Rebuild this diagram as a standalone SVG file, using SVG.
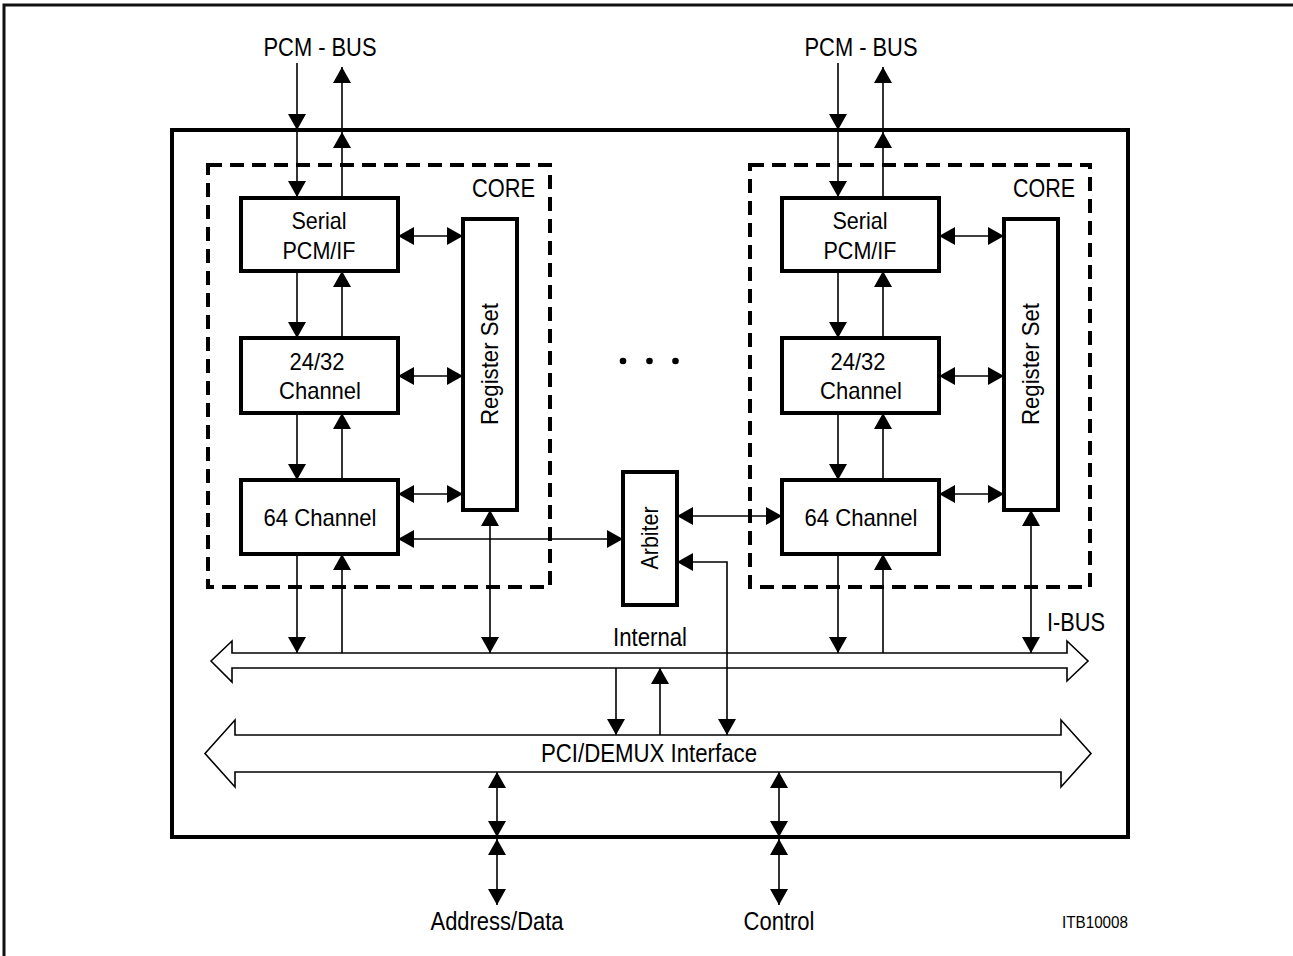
<svg xmlns="http://www.w3.org/2000/svg" width="1293" height="956" viewBox="0 0 1293 956">
<defs>
<style>
text{font-family:"Liberation Sans",Arial,sans-serif;fill:#000}
.t{font-size:25px}
.tb{font-size:24px}
.box{fill:#fff;stroke:#000;stroke-width:4}
.core{fill:none;stroke:#000;stroke-width:4;stroke-dasharray:14 8}
.ln{fill:none;stroke:#000;stroke-width:1.6}
.bus{fill:#fff;stroke:#000;stroke-width:1.6}
</style>
<marker id="ah" viewBox="0 0 16 18" refX="16" refY="9" markerWidth="16" markerHeight="18" markerUnits="userSpaceOnUse" orient="auto-start-reverse">
<path d="M0,0 L16,9 L0,18 z" fill="#000"/>
</marker>
</defs>
<rect width="1293" height="956" fill="#fff"/>
<path d="M4,956 V5 H1293" fill="none" stroke="#111" stroke-width="3"/>

<g id="chip"><rect x="172" y="130" width="956" height="707" fill="none" stroke="#000" stroke-width="4"/></g>

<g id="buses">
<path class="bus" d="M211,661 L232,641 L232,653 L1067,653 L1067,641 L1088,661 L1067,681 L1067,668 L232,668 L232,682 Z"/>
<path class="bus" d="M205,753.5 L235,720 L235,735 L1061,735 L1061,720 L1091,753.5 L1061,787 L1061,772 L235,772 L235,787 Z"/>
</g>

<g id="coreL">
<rect class="core" x="208" y="165" width="342" height="422"/>
<text class="t" x="472" y="197" textLength="63" lengthAdjust="spacingAndGlyphs">CORE</text>
</g>
<g id="coreR">
<rect class="core" x="750" y="165" width="340" height="422"/>
<text class="t" x="1013" y="197" textLength="62" lengthAdjust="spacingAndGlyphs">CORE</text>
</g>

<g id="serialL">
<rect class="box" x="241" y="198" width="157" height="73"/>
<text class="tb" x="319" y="229" text-anchor="middle" textLength="55" lengthAdjust="spacingAndGlyphs">Serial</text>
<text class="tb" x="319" y="259" text-anchor="middle" textLength="73" lengthAdjust="spacingAndGlyphs">PCM/IF</text>
</g>
<g id="ch2432L">
<rect class="box" x="241" y="338" width="157" height="75"/>
<text class="tb" x="317" y="370" text-anchor="middle" textLength="55" lengthAdjust="spacingAndGlyphs">24/32</text>
<text class="tb" x="320" y="399" text-anchor="middle" textLength="82" lengthAdjust="spacingAndGlyphs">Channel</text>
</g>
<g id="ch64L">
<rect class="box" x="241" y="480" width="157" height="74"/>
<text class="tb" x="320" y="526" text-anchor="middle" textLength="113" lengthAdjust="spacingAndGlyphs">64 Channel</text>
</g>
<g id="regL">
<rect class="box" x="463" y="219" width="54" height="291"/>
<text class="tb" x="498" y="364" text-anchor="middle" transform="rotate(-90 498 364)" textLength="122" lengthAdjust="spacingAndGlyphs">Register Set</text>
</g>

<g id="serialR">
<rect class="box" x="782" y="198" width="157" height="73"/>
<text class="tb" x="860" y="229" text-anchor="middle" textLength="55" lengthAdjust="spacingAndGlyphs">Serial</text>
<text class="tb" x="860" y="259" text-anchor="middle" textLength="73" lengthAdjust="spacingAndGlyphs">PCM/IF</text>
</g>
<g id="ch2432R">
<rect class="box" x="782" y="338" width="157" height="75"/>
<text class="tb" x="858" y="370" text-anchor="middle" textLength="55" lengthAdjust="spacingAndGlyphs">24/32</text>
<text class="tb" x="861" y="399" text-anchor="middle" textLength="82" lengthAdjust="spacingAndGlyphs">Channel</text>
</g>
<g id="ch64R">
<rect class="box" x="782" y="480" width="157" height="74"/>
<text class="tb" x="861" y="526" text-anchor="middle" textLength="113" lengthAdjust="spacingAndGlyphs">64 Channel</text>
</g>
<g id="regR">
<rect class="box" x="1004" y="219" width="54" height="291"/>
<text class="tb" x="1039" y="364" text-anchor="middle" transform="rotate(-90 1039 364)" textLength="122" lengthAdjust="spacingAndGlyphs">Register Set</text>
</g>

<g id="arbiter">
<rect class="box" x="623" y="472" width="54" height="133"/>
<text class="tb" x="658" y="538" text-anchor="middle" transform="rotate(-90 658 538)" textLength="63" lengthAdjust="spacingAndGlyphs">Arbiter</text>
</g>

<g id="dots">
<circle cx="623" cy="361" r="3.3"/>
<circle cx="649.5" cy="361" r="3.3"/>
<circle cx="675.5" cy="361" r="3.3"/>
</g>

<g id="labels">
<text class="t" x="320" y="56" text-anchor="middle" textLength="113" lengthAdjust="spacingAndGlyphs">PCM - BUS</text>
<text class="t" x="861" y="56" text-anchor="middle" textLength="113" lengthAdjust="spacingAndGlyphs">PCM - BUS</text>
<text class="t" x="650" y="646" text-anchor="middle" textLength="74" lengthAdjust="spacingAndGlyphs">Internal</text>
<text class="t" x="1047" y="631" textLength="58" lengthAdjust="spacingAndGlyphs">I-BUS</text>
<text class="t" x="649" y="762" text-anchor="middle" textLength="216" lengthAdjust="spacingAndGlyphs">PCI/DEMUX Interface</text>
<text class="t" x="497" y="930" text-anchor="middle" textLength="133" lengthAdjust="spacingAndGlyphs">Address/Data</text>
<text class="t" x="779" y="930" text-anchor="middle" textLength="71" lengthAdjust="spacingAndGlyphs">Control</text>
<text x="1062" y="928" font-size="17" textLength="66" lengthAdjust="spacingAndGlyphs">ITB10008</text>
</g>

<g id="connectors">
<path class="ln" d="M297,63 V130" marker-end="url(#ah)"/>
<path class="ln" d="M297,130 V197" marker-end="url(#ah)"/>
<path class="ln" d="M342,197 V132" marker-end="url(#ah)"/>
<path class="ln" d="M342,132 V67" marker-end="url(#ah)"/>
<path class="ln" d="M838,63 V130" marker-end="url(#ah)"/>
<path class="ln" d="M838,130 V197" marker-end="url(#ah)"/>
<path class="ln" d="M883,197 V132" marker-end="url(#ah)"/>
<path class="ln" d="M883,132 V67" marker-end="url(#ah)"/>
<path class="ln" d="M297,271 V338" marker-end="url(#ah)"/>
<path class="ln" d="M342,338 V271" marker-end="url(#ah)"/>
<path class="ln" d="M297,413 V480" marker-end="url(#ah)"/>
<path class="ln" d="M342,480 V413" marker-end="url(#ah)"/>
<path class="ln" d="M297,554 V653" marker-end="url(#ah)"/>
<path class="ln" d="M342,653 V554" marker-end="url(#ah)"/>
<path class="ln" d="M490,653 V510" marker-start="url(#ah)" marker-end="url(#ah)"/>
<path class="ln" d="M838,271 V338" marker-end="url(#ah)"/>
<path class="ln" d="M883,338 V271" marker-end="url(#ah)"/>
<path class="ln" d="M838,413 V480" marker-end="url(#ah)"/>
<path class="ln" d="M883,480 V413" marker-end="url(#ah)"/>
<path class="ln" d="M838,554 V653" marker-end="url(#ah)"/>
<path class="ln" d="M883,653 V554" marker-end="url(#ah)"/>
<path class="ln" d="M1031,653 V510" marker-start="url(#ah)" marker-end="url(#ah)"/>
<path class="ln" d="M398,236 H463" marker-start="url(#ah)" marker-end="url(#ah)"/>
<path class="ln" d="M398,376 H463" marker-start="url(#ah)" marker-end="url(#ah)"/>
<path class="ln" d="M398,494 H463" marker-start="url(#ah)" marker-end="url(#ah)"/>
<path class="ln" d="M939,236 H1004" marker-start="url(#ah)" marker-end="url(#ah)"/>
<path class="ln" d="M939,376 H1004" marker-start="url(#ah)" marker-end="url(#ah)"/>
<path class="ln" d="M939,494 H1004" marker-start="url(#ah)" marker-end="url(#ah)"/>
<path class="ln" d="M398,539 H623" marker-start="url(#ah)" marker-end="url(#ah)"/>
<path class="ln" d="M677,516 H782" marker-start="url(#ah)" marker-end="url(#ah)"/>
<path class="ln" d="M727,735 V562 H677" marker-start="url(#ah)" marker-end="url(#ah)"/>
<path class="ln" d="M616,668 V735" marker-end="url(#ah)"/>
<path class="ln" d="M660,735 V668" marker-end="url(#ah)"/>
<path class="ln" d="M497,772 V837" marker-start="url(#ah)" marker-end="url(#ah)"/>
<path class="ln" d="M497,839 V905" marker-start="url(#ah)" marker-end="url(#ah)"/>
<path class="ln" d="M779,772 V837" marker-start="url(#ah)" marker-end="url(#ah)"/>
<path class="ln" d="M779,839 V905" marker-start="url(#ah)" marker-end="url(#ah)"/>
</g>
</svg>
